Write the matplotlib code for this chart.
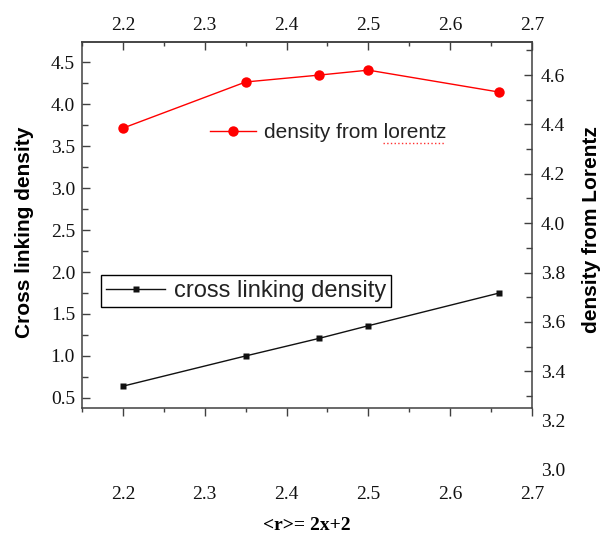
import numpy as np
import matplotlib
matplotlib.use('Agg')
import matplotlib.pyplot as plt
from matplotlib.ticker import MultipleLocator, FixedLocator
from matplotlib.lines import Line2D

# data
r_vals      = [2.2, 2.35, 2.44, 2.5, 2.66]
cross_link  = [0.64, 1.00, 1.21, 1.36, 1.75]    # left axis
dens_lor    = [4.385, 4.572, 4.600, 4.620, 4.531]  # right axis
xticks      = [2.2, 2.3, 2.4, 2.5, 2.6, 2.7]
yticks_l    = [0.5, 1.0, 1.5, 2.0, 2.5, 3.0, 3.5, 4.0, 4.5]
yticks_r    = [3.0, 3.2, 3.4, 3.6, 3.8, 4.0, 4.2, 4.4, 4.6]

W, H = 603., 535.
fig = plt.figure(figsize=(W/100., H/100.), dpi=100)
fig.patch.set_facecolor('white')

serif = 'Liberation Serif'
sans  = 'Liberation Sans'
spc   = '#404040'
xtlab = ['%.1f' % v for v in xticks]

#--- main box (left axis)
L, R, T, B = 82., 532., 42., 408.
ax = fig.add_axes([L/W, 1-B/H, (R-L)/W, (B-T)/H])
ax.plot(r_vals, cross_link, '-s', color='#111111', lw=1.0, ms=5,
        markeredgecolor='none', label='cross linking density')
ax.set_xlim(2.15, 2.7)
ax.set_ylim(0.38, 4.74)
ax.xaxis.set_major_locator(FixedLocator(xticks))
ax.xaxis.set_minor_locator(MultipleLocator(0.05))
ax.yaxis.set_major_locator(FixedLocator(yticks_l))
ax.yaxis.set_minor_locator(MultipleLocator(0.25))
ax.set_xticklabels(xtlab)
ax.set_yticklabels(['%.1f' % v for v in yticks_l])
for s in ax.spines.values():
    s.set_color(spc)
    s.set_linewidth(1.1)

# bottom: ticks out, labels far below the box
ax.tick_params(axis='x', which='both', direction='out', colors=spc,
               labelcolor='#111111', labelsize=14, width=1.0)
ax.tick_params(axis='x', which='major', length=6, pad=50)
ax.tick_params(axis='x', which='minor', length=3)
ax.tick_params(axis='y', which='both', direction='in', left=True, right=False,
               colors=spc, labelcolor='#111111', labelsize=14, width=1.0, pad=5)
ax.tick_params(axis='y', which='major', length=6)
ax.tick_params(axis='y', which='minor', length=4)
for lab in ax.get_xticklabels() + ax.get_yticklabels():
    lab.set_family(serif)

# top: ticks in
axt = ax.secondary_xaxis('top')
axt.xaxis.set_major_locator(FixedLocator(xticks))
axt.xaxis.set_minor_locator(MultipleLocator(0.05))
axt.set_xticklabels(xtlab)
axt.spines['top'].set_color(spc)
axt.spines['top'].set_linewidth(1.1)
axt.tick_params(axis='x', which='both', direction='in', colors=spc,
                labelcolor='#111111', labelsize=14, width=1.0, pad=5.5)
axt.tick_params(axis='x', which='major', length=6)
axt.tick_params(axis='x', which='minor', length=3)
for lab in axt.get_xticklabels():
    lab.set_family(serif)

ax.set_ylabel('Cross linking density', fontsize=15, fontweight='bold',
              family=sans, labelpad=12)
ax.yaxis.label.set_y(1-(232.-T)/(B-T))
ax.set_xlabel('<r>= 2x+2', fontsize=14, fontweight='bold', family=serif,
              labelpad=10)

#--- right axis, labels run below the box
Rb = 470.
ax2 = fig.add_axes([L/W, 1-Rb/H, (R-L)/W, (Rb-T)/H])
ax2.patch.set_visible(False)
ax2.plot(r_vals, dens_lor, '-o', color='#ff0000', lw=1.0, ms=7.5,
         markeredgecolor='none', label='density from lorentz')
ax2.set_xlim(2.15, 2.7)
ax2.set_ylim(3.0, 4.734)
ax2.xaxis.set_visible(False)
for s in ax2.spines.values():
    s.set_visible(False)
ax2.yaxis.tick_right()
ax2.yaxis.set_label_position('right')
ax2.yaxis.set_major_locator(FixedLocator(yticks_r))
ax2.yaxis.set_minor_locator(FixedLocator(np.arange(3.3, 4.75, 0.2)))
ax2.set_yticklabels(['%.1f' % v for v in yticks_r])
ax2.tick_params(axis='y', which='both', direction='in', colors=spc,
                labelcolor='#111111', labelsize=14, width=1.0, pad=6.5)
ax2.tick_params(axis='y', which='major', length=6)
ax2.tick_params(axis='y', which='minor', length=4)
for t, v in zip(ax2.yaxis.get_major_ticks(), yticks_r):
    if v < 3.3:
        t.tick2line.set_visible(False)
for lab in ax2.get_yticklabels():
    lab.set_family(serif)
ax2.set_ylabel('density from Lorentz', fontsize=15, fontweight='bold',
               family=sans, labelpad=12)
ax2.yaxis.label.set_y(1-(230.-T)/(Rb-T))

#--- legends
h1 = Line2D([], [], color='#111111', lw=1.0, marker='s', ms=5, markeredgecolor='none')
leg1 = fig.legend([h1], ['cross linking density'], loc='center',
                  bbox_to_anchor=(246./W, 1-291./H), frameon=True,
                  fancybox=False, edgecolor='black', framealpha=1,
                  prop={'family': sans, 'size': 17}, handlelength=2.5,
                  handletextpad=0.35, borderpad=0.22, borderaxespad=0,
                  numpoints=1)
leg1.get_frame().set_linewidth(1.0)
for tx in leg1.get_texts():
    tx.set_color('#222222')
h2 = Line2D([], [], color='#ff0000', lw=1.0, marker='o', ms=7.5, markeredgecolor='none')
leg2 = fig.legend([h2], ['density from lorentz'], loc='center',
                  bbox_to_anchor=(328./W, 1-133./H), frameon=False,
                  prop={'family': sans, 'size': 15}, handlelength=2.2,
                  handletextpad=0.4, numpoints=1)
for tx in leg2.get_texts():
    tx.set_color('#222222')
# spell-check underline under "lorentz"
fig.add_artist(Line2D([383./W, 444./W], [1-143./H, 1-143./H], color='#ff3030',
                      lw=1.0, ls=':'))

fig.savefig('out.png', dpi=100, facecolor='white')
